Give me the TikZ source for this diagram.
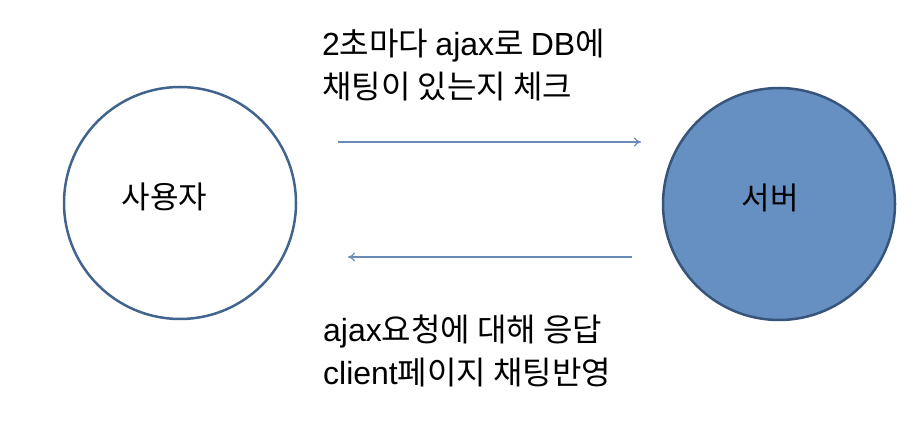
\documentclass[tikz,border=0pt]{standalone}
\usepackage{fontspec}
\setmainfont{Noto Sans CJK KR}
\newfontfamily\lat{Liberation Sans}
\usepackage{tikz}
\usetikzlibrary{arrows.meta}

\definecolor{rimblue}{HTML}{41648F}
\definecolor{fillblue}{HTML}{6690C2}
\definecolor{arrowblue}{HTML}{6A8AB8}

\begin{document}
\begin{tikzpicture}[x=1pt, y=1pt, main/.style={draw=rimblue, circle, minimum size=232pt, line width=2.5pt}, tag/.style={font=\fontsize{31}{36}\selectfont, inner sep=0pt}, info/.style={anchor=west, inner sep=0pt, align=left, font=\fontsize{32}{43}\selectfont}, n/.style={-{To[length=7pt, width=9pt]}, line width=1.2pt, arrowblue}]
            \useasboundingbox (0,0) rectangle (916,426);
            % nodes
            \node[main] (user) at (180,223) {};
            \node[main, fill=fillblue, draw=rimblue!85!black] (server) at (779,222) {};
            \node[tag] (usertag) at (164.5,229) {사용자};
            \node[tag] (servertag) at (770,228) {서버};

            \coordinate (arr11) at (338,284);
            \coordinate (arr12) at (641,284);
            \coordinate (arr21) at (632,169);
            \coordinate (arr22) at (348,169);

            \node[info] (ask) at (322,361) {{\lat 2}초마다 {\lat ajax}로 {\lat DB}에\\채팅이 있는지 체크};
            \node[info] (answer) at (323,75) {{\lat ajax}요청에 대해 응답\\{\lat client}페이지 채팅반영};
            % edges
            \draw [n] (arr11) -- (arr12);
            \draw [n] (arr21) -- (arr22);
        \end{tikzpicture}
\end{document}
